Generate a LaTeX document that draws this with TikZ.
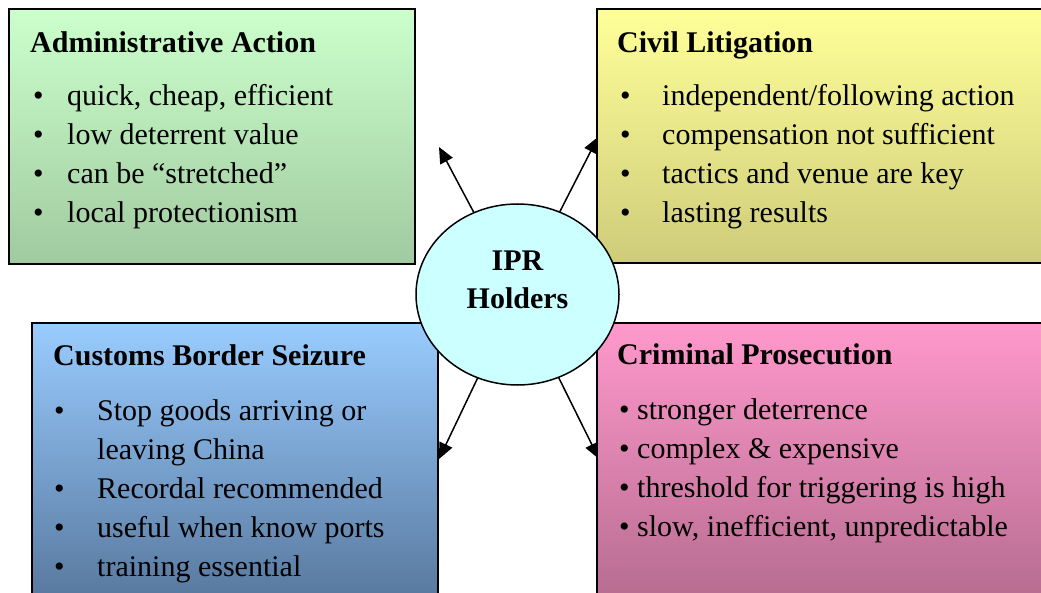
\documentclass[tikz,border=0pt]{standalone}
\usepackage{fontspec}
\setmainfont{Liberation Serif}
\usetikzlibrary{shapes.geometric,arrows.meta}
\definecolor{gtop}{RGB}{204,255,204}
\definecolor{gbot}{RGB}{160,202,160}
\definecolor{ytop}{RGB}{255,255,153}
\definecolor{ybot}{RGB}{206,204,122}
\definecolor{btop}{RGB}{153,204,255}
\definecolor{bbot}{RGB}{88,120,158}
\definecolor{ptop}{RGB}{255,153,204}
\definecolor{pbot}{RGB}{182,108,144}
\definecolor{cyanfill}{RGB}{204,255,255}
\tikzset{
  panel/.style={draw=black, line width=1.5pt},
  txt/.style={anchor=base west, inner sep=0pt, font=\fontsize{30}{39}\selectfont},
  ttl/.style={anchor=base west, inner sep=0pt, font=\fontsize{30}{39}\selectfont\bfseries},
  ctr/.style={anchor=base, inner sep=0pt, font=\fontsize{30}{39}\selectfont\bfseries},
  arr/.style={line width=1.5pt, -{Triangle[length=16pt,width=14pt]}},
}
\begin{document}
\begin{tikzpicture}[x=1pt,y=-1pt]
\useasboundingbox (0,0) rectangle (1041,593);
\clip (0,0) rectangle (1041,593);
% hub node (shape only, drawn on top later)
\path (517.5,294.5) node[ellipse, minimum width=203pt, minimum height=181pt, inner sep=0pt] (ipr) {};
% arrow end points
\coordinate (tA) at (439,147);
\coordinate (tB) at (598,137);
\coordinate (tC) at (439,459);
\coordinate (tD) at (599,459);
\draw[arr] (ipr) -- (tA);
\draw[arr] (ipr) -- (tB);
\draw[arr] (ipr) -- (tC);
\draw[arr] (ipr) -- (tD);
% panels
\shade[top color=gtop, bottom color=gbot] (9,9) rectangle (415,264);
\draw[panel] (9,9) rectangle (415,264);
\shade[top color=ytop, bottom color=ybot] (597,9) rectangle (1050,263);
\draw[panel] (597,9) rectangle (1050,263);
\shade[top color=btop, bottom color=bbot] (32,323) rectangle (438,600);
\draw[panel] (32,323) rectangle (438,600);
\shade[top color=ptop, bottom color=pbot] (597,323) rectangle (1050,600);
\draw[panel] (597,323) rectangle (1050,600);
% hub drawn on top
\draw[line width=1.5pt, fill=cyanfill] (517.5,294.5) ellipse [x radius=101.5, y radius=90.5];
\node[ctr] (iprA) at (517.5,271) {IPR};
\node[ctr] (iprB) at (517.5,309) {Holders};
% Administrative Action
\node[ttl] (a0) at (30,53) {Administrative Action};
\node[txt] (ab1) at (33,106) {•};
\node[txt] (ab2) at (33,145) {•};
\node[txt] (ab3) at (33,184) {•};
\node[txt] (ab4) at (33,223) {•};
\node[txt] (a1) at (67,106) {quick, cheap, efficient};
\node[txt] (a2) at (67,145) {low deterrent value};
\node[txt] (a3) at (67,184) {can be “stretched”};
\node[txt] (a4) at (67,223) {local protectionism};
% Civil Litigation
\node[ttl] (c0) at (617,53) {Civil Litigation};
\node[txt] (cb1) at (620,106) {•};
\node[txt] (cb2) at (620,145) {•};
\node[txt] (cb3) at (620,184) {•};
\node[txt] (cb4) at (620,223) {•};
\node[txt] (c1) at (662,106) {independent/following action};
\node[txt] (c2) at (662,145) {compensation not sufficient};
\node[txt] (c3) at (662,184) {tactics and venue are key};
\node[txt] (c4) at (662,223) {lasting results};
% Customs Border Seizure
\node[ttl] (s0) at (53,366) {Customs Border Seizure};
\node[txt] (sb1) at (54,420) {•};
\node[txt] (sb3) at (54,498) {•};
\node[txt] (sb4) at (54,537) {•};
\node[txt] (sb5) at (54,576) {•};
\node[txt] (s1) at (97,420) {Stop goods arriving or};
\node[txt] (s2) at (97,459) {leaving China};
\node[txt] (s3) at (97,498) {Recordal recommended};
\node[txt] (s4) at (97,537) {useful when know ports};
\node[txt] (s5) at (97,576) {training essential};
% Criminal Prosecution
\node[ttl] (p0) at (617,365) {Criminal Prosecution};
\node[txt] (p1) at (619,419) {• stronger deterrence};
\node[txt] (p2) at (619,458) {• complex \& expensive};
\node[txt] (p3) at (619,497) {• threshold for triggering is high};
\node[txt] (p4) at (619,536) {• slow, inefficient, unpredictable};
\end{tikzpicture}
\end{document}
